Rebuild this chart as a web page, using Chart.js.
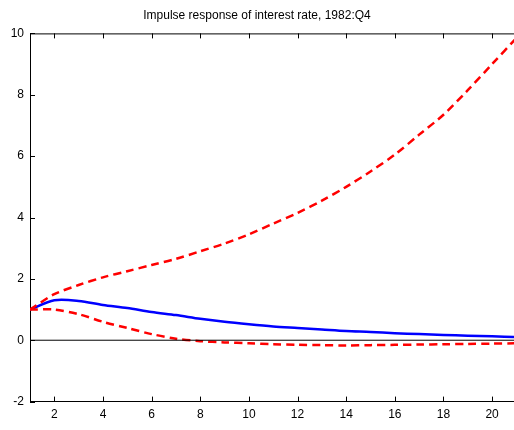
<!DOCTYPE html>
<html><head><script src="https://cdn.jsdelivr.net/npm/chart.js@4"></script>
<style>body{margin:0;background:#fff}#w{width:514px;height:430px}</style></head>
<body><div id="w"><canvas id="c"></canvas></div>
<script>
const xs=[1,2,3,4,5,6,7,8,9,10,11,12,13,14,15,16,17,18,19,20,21];
const mid=[1,1.3,1.28,1.15,1.05,0.92,0.82,0.7,0.6,0.52,0.45,0.4,0.35,0.3,0.27,0.23,0.2,0.17,0.15,0.13,0.1];
const upper=[1,1.5,1.8,2.05,2.25,2.45,2.65,2.9,3.15,3.45,3.8,4.15,4.55,5.0,5.5,6.05,6.7,7.35,8.15,9.0,9.85];
const lower=[1,1.0,0.85,0.6,0.4,0.2,0.05,-0.03,-0.07,-0.1,-0.13,-0.15,-0.16,-0.17,-0.16,-0.15,-0.14,-0.13,-0.12,-0.11,-0.1];
const zero=[0,0];
const pts=a=>a.map((v,i)=>({x:xs[i],y:v}));
const frame={id:'frame',afterDraw(ch){const {ctx,chartArea:a,scales:{x,y}}=ch;ctx.save();ctx.strokeStyle='#000';ctx.lineWidth=1;
ctx.beginPath();ctx.moveTo(a.left,a.top+0.5);ctx.lineTo(a.right,a.top+0.5);
x.ticks.forEach(t=>{const p=Math.round(x.getPixelForValue(t.value))+0.5;ctx.moveTo(p,a.bottom);ctx.lineTo(p,a.bottom-5);ctx.moveTo(p,a.top);ctx.lineTo(p,a.top+5);});
y.ticks.forEach(t=>{const p=Math.round(y.getPixelForValue(t.value))+0.5;ctx.moveTo(a.left,p);ctx.lineTo(a.left+5,p);});
ctx.stroke();ctx.restore();}};
new Chart(document.getElementById('c'),{type:'line',
data:{datasets:[
{data:[{x:1,y:zero[0]},{x:21,y:zero[1]}],borderColor:'#000',borderWidth:1,pointRadius:0},
{data:pts(upper),borderColor:'#f00',borderWidth:2.5,borderDash:[8,5],pointRadius:0,tension:0.3},
{data:pts(lower),borderColor:'#f00',borderWidth:2.5,borderDash:[8,5],pointRadius:0,tension:0.3},
{data:pts(mid),borderColor:'#00f',borderWidth:2.5,pointRadius:0,tension:0.3}
]},
plugins:[frame],
options:{responsive:true,maintainAspectRatio:false,animation:false,
layout:{padding:{top:0,right:0,bottom:2,left:0}},
plugins:{legend:{display:false},tooltip:{enabled:false},
title:{display:true,text:'Impulse response of interest rate, 1982:Q4',color:'#000',font:{family:'Liberation Sans',size:12,weight:'normal'},padding:{top:8,bottom:11}}},
scales:{
x:{type:'linear',min:1,max:20.9,afterBuildTicks:s=>{s.ticks=[2,4,6,8,10,12,14,16,18,20].map(v=>({value:v}));},
grid:{display:false,drawTicks:false},border:{color:'#000',width:1},
ticks:{color:'#000',font:{family:'Liberation Sans',size:12},padding:6}},
y:{min:-2,max:10,afterFit:s=>{s.width=30;},grid:{display:false,drawTicks:false},border:{color:'#000'},
ticks:{stepSize:2,color:'#000',font:{family:'Liberation Sans',size:12},padding:6}}
}}});
</script></body></html>
